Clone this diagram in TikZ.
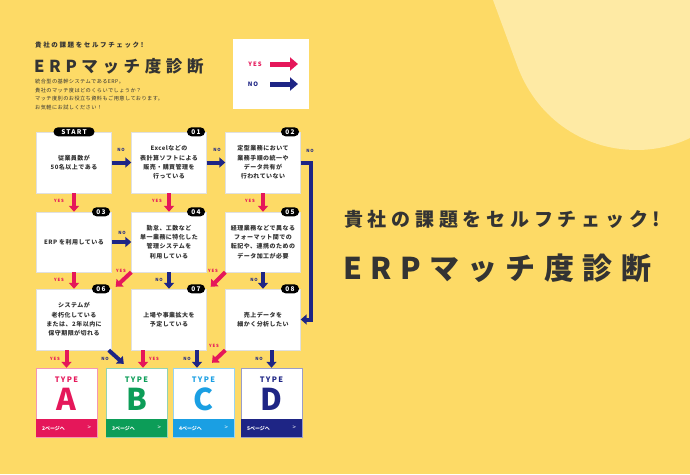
\documentclass[tikz,border=0pt]{standalone}
\usepackage{fontspec}
\setmainfont{Noto Sans CJK JP}
\newfontfamily\titlefont[LetterSpace=28]{Noto Sans CJK JP}
\newfontfamily\kickerfont[LetterSpace=25]{Noto Sans CJK JP}
\newfontfamily\boxfont[LetterSpace=8]{Noto Sans CJK JP}
\newfontfamily\tagfont[LetterSpace=18]{Noto Sans CJK JP}
\usetikzlibrary{arrows.meta, shadows}

\definecolor{bgyellow}{HTML}{FDDA66}
\definecolor{blobyellow}{HTML}{FEEAA4}
\definecolor{yesred}{HTML}{E5175A}
\definecolor{noblue}{HTML}{1E2585}
\definecolor{typegreen}{HTML}{0C9D58}
\definecolor{typecyan}{HTML}{1A9FE3}
\definecolor{inkgray}{HTML}{333333}

\tikzset{
    qbox/.style={draw=black!12, fill=white, minimum width=75pt, minimum height=61pt, inner sep=0pt, align=center,
        text=inkgray, font=\boxfont\bfseries\fontsize{6}{9.3}\selectfont,
        drop shadow={shadow xshift=0.8pt, shadow yshift=-0.8pt, opacity=0.18}},
    badge/.style={fill=black, text=white, rounded corners=4.5pt, minimum height=9pt, minimum width=18pt, inner sep=0pt,
        font=\tagfont\bfseries\fontsize{6.5}{6.5}\selectfont},
    yesarrow/.style={yesred, line width=4pt, -{Triangle[length=6pt, width=10pt]}},
    noarrow/.style={noblue, line width=4pt, -{Triangle[length=6pt, width=10pt]}},
    yeslabel/.style={text=yesred, inner sep=0pt, font=\tagfont\bfseries\fontsize{4.3}{4.3}\selectfont},
    nolabel/.style={text=noblue, inner sep=0pt, font=\tagfont\bfseries\fontsize{4.3}{4.3}\selectfont},
    typebox/.style={fill=white, draw=#1!45, minimum width=61pt, minimum height=69pt, inner sep=0pt},
    typeword/.style={text=#1, inner sep=0pt, font=\tagfont\bfseries\fontsize{7.5}{7.5}\selectfont},
    typeletter/.style={text=#1, inner sep=0pt, anchor=base, font=\bfseries\fontsize{30}{30}\selectfont},
    pagelink/.style={text=white, inner sep=0pt, font=\bfseries\fontsize{5}{5}\selectfont}
}

\begin{document}
\begin{tikzpicture}[x=1pt, y=-1pt]
    \fill[bgyellow] (0,0) rectangle (690,474);
    \useasboundingbox (0,0) rectangle (690,474);
    \fill[blobyellow] (493,0) -- (517,65) .. controls (535,115) and (580,150) .. (637,150)
        .. controls (660,150) and (680,143) .. (690,138) -- (690,0) -- cycle;

    \node[anchor=west, inner sep=0pt, text=inkgray, font=\kickerfont\bfseries\fontsize{6.5}{6.5}\selectfont] (kicker) at (35,45) {貴社の課題をセルフチェック!};
    \node[anchor=west, inner sep=0pt, text=inkgray, font=\titlefont\bfseries\fontsize{16.5}{16.5}\selectfont] (title) at (34,66) {ERPマッチ度診断};
    \node[anchor=north west, inner sep=0pt, align=left, text=inkgray, font=\boxfont\fontsize{5.2}{8.7}\selectfont] (intro) at (35,79)
        {統合型の基幹システムであるERP。\\貴社のマッチ度はどのくらいでしょうか？\\マッチ度別のお役立ち資料もご用意しております。\\お気軽にお試しください！};

    \node[fill=white, minimum width=76pt, minimum height=70pt, inner sep=0pt] (legend) at (271,74) {};
    \node[yeslabel, font=\tagfont\bfseries\fontsize{6}{6}\selectfont] (legendyes) at (255,64) {YES};
    \node[nolabel, font=\tagfont\bfseries\fontsize{6}{6}\selectfont] (legendno) at (253,84) {NO};
    \coordinate (yesfrom) at (270,64);
    \coordinate (yesto) at (298,64);
    \coordinate (nofrom) at (270,84);
    \coordinate (noto) at (298,84);
    \draw[yesred, line width=5pt, -{Triangle[length=8pt, width=13pt]}] (yesfrom) -- (yesto);
    \draw[noblue, line width=5pt, -{Triangle[length=8pt, width=13pt]}] (nofrom) -- (noto);

    \node[qbox] (start) at (74,162.5) {従業員数が\\50名以上である};
    \node[qbox] (check1) at (169,162.5) {Excelなどの\\表計算ソフトによる\\販売・購買管理を\\行っている};
    \node[qbox] (check2) at (263,162.5) {定型業務において\\業務手順の統一や\\データ共有が\\行われていない};

    \node[qbox, minimum height=60pt] (check3) at (74,242) {ERP を利用している};
    \node[qbox, minimum height=60pt] (check4) at (169,242) {勤怠、工数など\\単一業務に特化した\\管理システムを\\利用している};
    \node[qbox, minimum height=60pt] (check5) at (263,242) {経理業務などで異なる\\フォーマット間での\\転記や、連携のための\\データ加工が必要};

    \node[qbox] (check6) at (74,319.5) {システムが\\老朽化している\\または、2年以内に\\保守期限が切れる};
    \node[qbox] (check7) at (169,319.5) {上場や事業拡大を\\予定している};
    \node[qbox] (check8) at (263,319.5) {売上データを\\細かく分析したい};

    \node[badge, minimum width=41pt] (startbadge) at (start.north) {START};
    \node[badge, anchor=east] (badge1) at ([xshift=-1.5pt]check1.north east) {01};
    \node[badge, anchor=east] (badge2) at ([xshift=-1.5pt]check2.north east) {02};
    \node[badge, anchor=east] (badge3) at ([xshift=-1.5pt]check3.north east) {03};
    \node[badge, anchor=east] (badge4) at ([xshift=-1.5pt]check4.north east) {04};
    \node[badge, anchor=east] (badge5) at ([xshift=-1.5pt]check5.north east) {05};
    \node[badge, anchor=east] (badge6) at ([xshift=-1.5pt]check6.north east) {06};
    \node[badge, anchor=east] (badge7) at ([xshift=-1.5pt]check7.north east) {07};
    \node[badge, anchor=east] (badge8) at ([xshift=-1.5pt]check8.north east) {08};

    \node[typebox=yesred] (typeA) at (66.5,402.5) {};
    \node[typebox=typegreen] (typeB) at (136.5,402.5) {};
    \node[typebox=typecyan] (typeC) at (203.5,402.5) {};
    \node[typebox=noblue] (typeD) at (271.5,402.5) {};

    \fill[yesred] (typeA.south west) rectangle ([yshift=18pt]typeA.south east);
    \fill[typegreen] (typeB.south west) rectangle ([yshift=18pt]typeB.south east);
    \fill[typecyan] (typeC.south west) rectangle ([yshift=18pt]typeC.south east);
    \fill[noblue] (typeD.south west) rectangle ([yshift=18pt]typeD.south east);

    \node[typeword=yesred] (wordA) at ([yshift=-12pt]typeA.north) {TYPE};
    \node[typeword=typegreen] (wordB) at ([yshift=-12pt]typeB.north) {TYPE};
    \node[typeword=typecyan] (wordC) at ([yshift=-12pt]typeC.north) {TYPE};
    \node[typeword=noblue] (wordD) at ([yshift=-12pt]typeD.north) {TYPE};

    \node[typeletter=yesred] (letterA) at ([yshift=-43pt]typeA.north) {A};
    \node[typeletter=typegreen] (letterB) at ([yshift=-43pt]typeB.north) {B};
    \node[typeletter=typecyan] (letterC) at ([yshift=-43pt]typeC.north) {C};
    \node[typeletter=noblue] (letterD) at ([yshift=-43pt]typeD.north) {D};

    \node[pagelink, anchor=west] (linkA) at ([xshift=6pt, yshift=9pt]typeA.south west) {2ページへ};
    \node[pagelink, anchor=west] (linkB) at ([xshift=6pt, yshift=9pt]typeB.south west) {3ページへ};
    \node[pagelink, anchor=west] (linkC) at ([xshift=6pt, yshift=9pt]typeC.south west) {4ページへ};
    \node[pagelink, anchor=west] (linkD) at ([xshift=6pt, yshift=9pt]typeD.south west) {5ページへ};
    \node[pagelink, anchor=east, font=\fontsize{6}{6}\selectfont] (goA) at ([xshift=-6pt, yshift=9pt]typeA.south east) {>};
    \node[pagelink, anchor=east, font=\fontsize{6}{6}\selectfont] (goB) at ([xshift=-6pt, yshift=9pt]typeB.south east) {>};
    \node[pagelink, anchor=east, font=\fontsize{6}{6}\selectfont] (goC) at ([xshift=-6pt, yshift=9pt]typeC.south east) {>};
    \node[pagelink, anchor=east, font=\fontsize{6}{6}\selectfont] (goD) at ([xshift=-6pt, yshift=9pt]typeD.south east) {>};

    \draw[noarrow] (start.east) -- (check1.west);
    \draw[noarrow] (check1.east) -- (check2.west);
    \draw[noarrow] (check2.east) -- ++(10,0) |- (check8.east);
    \draw[yesarrow] (start.south) -- (check3.north);
    \draw[yesarrow] (check1.south) -- (check4.north);
    \draw[yesarrow] (check2.south) -- (check5.north);

    \draw[noarrow] (check3.east) -- (check4.west);
    \draw[yesarrow] (check3.south) -- (check6.north);
    \draw[yesarrow] (check4.south west) -- ([xshift=4pt, yshift=2pt]check6.north east);
    \draw[noarrow] (check4.south) -- (check7.north);
    \draw[yesarrow] (check5.south west) -- ([xshift=4pt, yshift=2pt]check7.north east);
    \draw[noarrow] (check5.south) -- (check8.north);

    \draw[yesarrow] (check6.south -| typeA.north) -- (typeA.north);
    \draw[noarrow] ([xshift=-3pt]check6.south east) -- ([xshift=18pt, yshift=4pt]typeB.north west);
    \draw[yesarrow] ([xshift=6.5pt]typeB.north |- check7.south) -- ([xshift=6.5pt]typeB.north);
    \draw[noarrow] ([xshift=-6.5pt]typeC.north |- check7.south) -- ([xshift=-6.5pt]typeC.north);
    \draw[yesarrow] (check8.south west) -- ([xshift=8.5pt, yshift=5pt]typeC.north);
    \draw[noarrow] (check8.south -| typeD.north) -- (typeD.north);

    \node[nolabel] (no1) at (121,150) {NO};
    \node[nolabel] (no2) at (217,150) {NO};
    \node[nolabel] (no3) at (310,151) {NO};
    \node[yeslabel] (yes1) at (59,201) {YES};
    \node[yeslabel] (yes2) at (157,201) {YES};
    \node[yeslabel] (yes3) at (250,201) {YES};

    \node[nolabel] (no4) at (122,233) {NO};
    \node[yeslabel] (yes4) at (59,280) {YES};
    \node[yeslabel] (yes5) at (121,271) {YES};
    \node[nolabel] (no5) at (159,280) {NO};
    \node[yeslabel] (yes6) at (213,271) {YES};
    \node[nolabel] (no6) at (254,280) {NO};

    \node[yeslabel] (yes7) at (55,359) {YES};
    \node[nolabel] (no7) at (105,359) {NO};
    \node[yeslabel] (yes8) at (154,359) {YES};
    \node[nolabel] (no8) at (187,359) {NO};
    \node[yeslabel] (yes9) at (214,346) {YES};
    \node[nolabel] (no9) at (259,359) {NO};

    \node[anchor=west, inner sep=0pt, text=inkgray, font=\kickerfont\bfseries\fontsize{19}{19}\selectfont] (sidekicker) at (344,219) {貴社の課題をセルフチェック!};
    \node[anchor=west, inner sep=0pt, text=inkgray, font=\titlefont\bfseries\fontsize{30}{30}\selectfont] (sidetitle) at (343,268) {ERPマッチ度診断};
\end{tikzpicture}
\end{document}
